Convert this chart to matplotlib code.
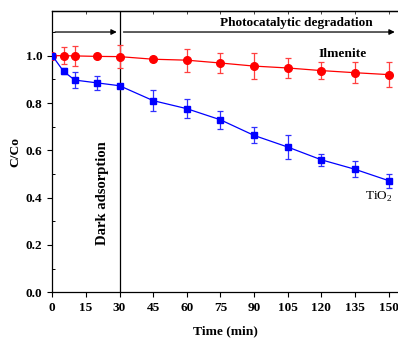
import matplotlib
matplotlib.use("Agg")
import matplotlib.pyplot as plt
from matplotlib.ticker import MultipleLocator

plt.rcParams['font.family'] = ['Liberation Serif', 'DejaVu Serif']
plt.rcParams['mathtext.fontset'] = 'custom'
plt.rcParams['mathtext.rm'] = 'Liberation Serif'

time = [0, 5, 10, 20, 30, 45, 60, 75, 90, 105, 120, 135, 150]
ilmenite = [1.0, 1.0, 0.999, 0.997, 0.996, 0.985, 0.981, 0.969, 0.956, 0.948, 0.937, 0.928, 0.920]
ilmenite_err = [0.0, 0.037, 0.042, 0.008, 0.047, 0.008, 0.049, 0.041, 0.055, 0.044, 0.035, 0.045, 0.054]
tio2 = [1.0, 0.934, 0.897, 0.885, 0.873, 0.810, 0.776, 0.729, 0.663, 0.614, 0.560, 0.520, 0.472]
tio2_err = [0.0, 0.012, 0.034, 0.028, 0.008, 0.044, 0.039, 0.039, 0.034, 0.049, 0.026, 0.033, 0.030]
xticks = [0, 15, 30, 45, 60, 75, 90, 105, 120, 135, 150]
yticks = [0.0, 0.2, 0.4, 0.6, 0.8, 1.0]

fig = plt.figure(figsize=(3.98, 3.39), dpi=100)
ax = fig.add_axes([0.1314, 0.1377, 0.8686, 0.8307])

ax.errorbar(time, ilmenite, yerr=ilmenite_err, color='#ff0000', ecolor='#ff4040',
            marker='o', markersize=5.5, linewidth=0.9, elinewidth=0.9, capsize=2.3, capthick=0.9, zorder=3)
ax.errorbar(time, tio2, yerr=tio2_err, color='#0000ff', ecolor='#3030ff',
            marker='s', markersize=5, linewidth=0.9, elinewidth=0.9, capsize=2.3, capthick=0.9, zorder=3)

ax.set_xlim(0, 154.2)
ax.set_ylim(0, 1.19)
ax.set_xticks(xticks)
ax.set_yticks(yticks)
ax.yaxis.set_minor_locator(MultipleLocator(0.1))
ax.spines['right'].set_visible(False)
for s in ['left', 'bottom', 'top']:
    ax.spines[s].set_linewidth(0.9)
ax.tick_params(axis='both', which='major', direction='out', length=3.5, width=0.8, labelsize=9.5)
ax.tick_params(axis='y', which='minor', direction='in', length=2, width=0.7)
for lbl in ax.get_xticklabels() + ax.get_yticklabels():
    lbl.set_fontweight('bold')

# top spine inward ticks
top = ax.secondary_xaxis('top')
top.set_xticks(xticks)
top.tick_params(direction='in', length=2.5, width=0.7, labeltop=False, color='#444444')
top.spines['top'].set_linewidth(0.9)

ax.axvline(30, color='black', linewidth=0.9, zorder=2)
ax.annotate('', xy=(30, 1.1), xytext=(0, 1.1),
            arrowprops=dict(arrowstyle='-|>', color='black', lw=0.9, mutation_scale=8))
ax.annotate('', xy=(154.0, 1.1), xytext=(30.5, 1.1),
            arrowprops=dict(arrowstyle='-|>', color='black', lw=0.9, mutation_scale=8), annotation_clip=False)

ax.text(109, 1.14, 'Photocatalytic degradation', ha='center', va='center', fontsize=9.5, fontweight='bold')
ax.text(129.5, 1.007, 'Ilmenite', ha='center', va='center', fontsize=9.7, fontweight='bold')
ax.text(145.6, 0.404, 'TiO$_2$', ha='center', va='center', fontsize=9.5)
ax.text(22.5, 0.42, 'Dark adsorption', ha='center', va='center', rotation=90, fontsize=10.5, fontweight='bold')

ax.set_xlabel('Time (min)', fontsize=9.7, fontweight='bold', labelpad=8)
ax.set_ylabel('C/Co', fontsize=9.7, fontweight='bold', labelpad=3)

fig.savefig('out.png', dpi=100)
